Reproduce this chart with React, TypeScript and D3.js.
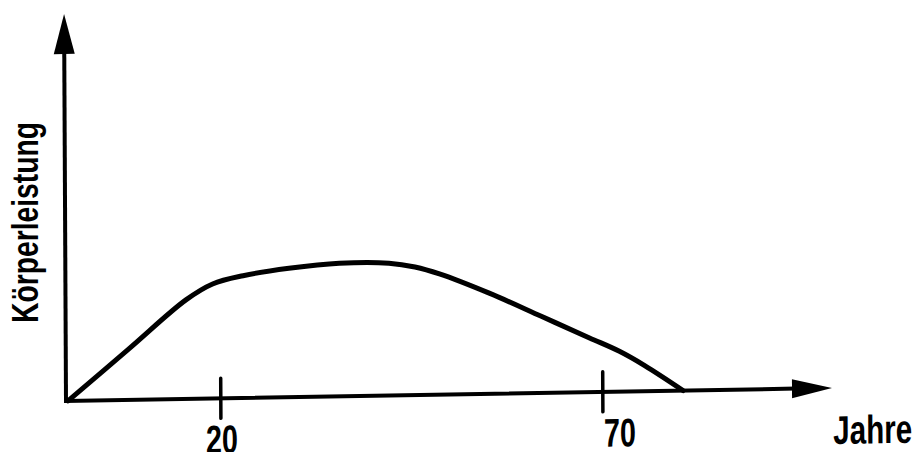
import React from 'react';
import * as d3 from 'd3';

// Data (age in years vs. relative body performance)
const years = [0, 8, 15.5, 19, 23, 29, 35.6, 42.1, 45.5, 48.7, 55.2, 62, 68.3, 72.2, 75.5, 80.5];
const performance = [0, 13.2, 25.6, 29.6, 31.6, 33.3, 34.4, 34.2, 33.1, 31.2, 26.0, 19.8, 14.0, 10.4, 6.6, 0];
const tickValues = [20, 70];
const tickLabels = ['20', '70'];
const xTitle = 'Jahre';
const yTitle = 'Körperleistung';

const W = 915;
const H = 452;
const FONT = '"Liberation Sans", Arial, Helvetica, sans-serif';

export default function App() {
  const ox = 66;
  const oy = 401;
  const x = d3.scaleLinear().domain([0, 100]).range([2, 766]);
  const y = d3.scaleLinear().domain([0, 100]).range([0, -387]);

  const line = d3
    .line<number>()
    .x((_, i) => x(years[i]))
    .y((d) => y(d))
    .curve(d3.curveCatmullRom.alpha(0.5));
  const path = line(performance) || '';

  const xEnd = x(100);
  const yEnd = y(100);
  const headLen = 40;
  const labelDx = [1, 17];

  return (
    <svg
      width={W}
      height={H}
      viewBox={`0 0 ${W} ${H}`}
      style={{ position: 'absolute', left: 0, top: 0, display: 'block', background: '#fff' }}
    >
      <rect x={0} y={0} width={W} height={H} fill="#fff" />
      <g transform={`translate(${ox},${oy}) matrix(1,-0.017,0.005,1,0,0)`}>
        {/* y axis */}
        <line x1={0} y1={0} x2={0} y2={yEnd + headLen - 2} stroke="#000" strokeWidth={4} strokeLinecap="square" />
        <path d={`M0,${yEnd} L${-10.5},${yEnd + headLen} L${10.5},${yEnd + headLen} Z`} fill="#000" />
        {/* x axis */}
        <line x1={0} y1={0} x2={xEnd - headLen + 2} y2={0} stroke="#000" strokeWidth={4} strokeLinecap="square" />
        <path d={`M${xEnd},0 L${xEnd - headLen},${-9.5} L${xEnd - headLen},${9.5} Z`} fill="#000" />
        {/* ticks */}
        {tickValues.map((v, i) => (
          <g key={v}>
            <line x1={x(v)} x2={x(v)} y1={-20} y2={20} stroke="#000" strokeWidth={3.5} strokeLinecap="round" />
            <text
              x={x(v) + labelDx[i]}
              y={55}
              textAnchor="middle"
              fontFamily={FONT}
              fontWeight="bold"
              fontSize={40}
              textLength={32}
              lengthAdjust="spacingAndGlyphs"
              fill="#000"
            >
              {tickLabels[i]}
            </text>
          </g>
        ))}
        {/* curve */}
        <path d={path} fill="none" stroke="#000" strokeWidth={5} strokeLinecap="round" strokeLinejoin="round" />
        {/* x title */}
        <text
          x={767}
          y={56}
          textAnchor="start"
          fontFamily={FONT}
          fontWeight="bold"
          fontSize={40}
          textLength={79}
          lengthAdjust="spacingAndGlyphs"
          fill="#000"
        >
          {xTitle}
        </text>
      </g>
      {/* y title */}
      <text
        transform="translate(38,222.5) rotate(-90)"
        x={0}
        y={0}
        textAnchor="middle"
        fontFamily={FONT}
        fontWeight="bold"
        fontSize={36}
        textLength={201}
        lengthAdjust="spacingAndGlyphs"
        fill="#000"
      >
        {yTitle}
      </text>
    </svg>
  );
}
